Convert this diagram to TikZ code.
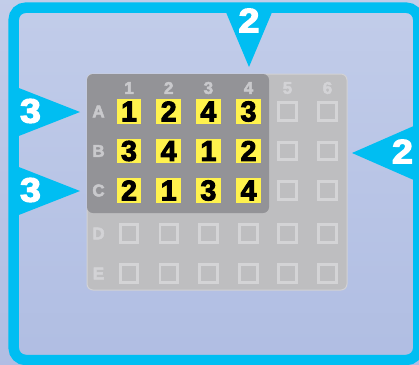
\documentclass[tikz,border=0pt]{standalone}
\usepackage{fontspec}
\newfontfamily\heavyfont{Liberation Sans}[UprightFont={* Bold}]
\newcommand{\thick}[2]{\special{pdf:literal direct 2 Tr #1 w}#2\special{pdf:literal direct 0 Tr}}
\definecolor{bgA}{HTML}{C6D0EB}
\definecolor{bgB}{HTML}{ACBAE1}
\definecolor{frame}{HTML}{00BEF2}
\definecolor{plate}{HTML}{BEBEC0}
\definecolor{plateedge}{HTML}{D2D2D5}
\definecolor{dark}{HTML}{939397}
\definecolor{ylw}{HTML}{FFF24D}
\definecolor{lab}{HTML}{C9C9CC}
\definecolor{lablight}{HTML}{D3D3D6}
\definecolor{wellc}{HTML}{D4D4D6}
\tikzset{
  ysq/.style={fill=ylw, minimum size=24.5pt, inner sep=0pt, font=\heavyfont\fontsize{28.5}{28.5}\selectfont, text=black},
  wellsq/.style={draw=wellc, line width=2.8pt, minimum size=17.5pt, inner sep=0pt},
  collab/.style={text=lab, inner sep=0pt, font=\heavyfont\fontsize{17}{17}\selectfont},
  collabl/.style={collab, text=lablight},
  bignum/.style={text=white, inner sep=0pt, xscale=1.1, font=\heavyfont\fontsize{34}{34}\selectfont},
  tri/.style={fill=frame},
}
\begin{document}
\begin{tikzpicture}[x=1pt,y=-1pt]
\useasboundingbox (0,0) rectangle (419,364);
\clip (0,0) rectangle (419,364);
\shade[shading angle=45, top color=bgA, bottom color=bgB] (-80,-80) rectangle (500,444);
% frame
\draw[frame, line width=10.5pt, rounded corners=12pt] (13.7,7.7) rectangle (418.3,360);
% triangles
\fill[tri] (224,7.5) -- (274,7.5) -- (249,67) -- cycle;
\fill[tri] (13.7,86) -- (80,112) -- (13.7,138) -- cycle;
\fill[tri] (13.7,165) -- (80,191) -- (13.7,217) -- cycle;
\fill[tri] (418.3,124) -- (352,153) -- (418.3,182) -- cycle;
% numbers on triangles
\node[bignum] (t2) at (249,20.5) {\thick{1.2}{2}};
\node[bignum] (l3a) at (30.5,111) {\thick{1.2}{3}};
\node[bignum] (l3b) at (30.5,190) {\thick{1.2}{3}};
\node[bignum] (r2) at (402.5,151.5) {\thick{1.2}{2}};
% plate
\draw[fill=plate, draw=plateedge, line width=1pt, rounded corners=6pt] (87,74) rectangle (347,290);
\fill[dark, rounded corners=6pt] (87,74) rectangle (269,213);
% column labels
\foreach \c/\x in {1/129,2/168.7,3/208.4,4/248.5}{
  \node[collab] (col\c) at (\x,88) {\thick{0.5}{\c}};
}
\foreach \c/\x in {5/287.5,6/327.5}{
  \node[collabl] (col\c) at (\x,88) {\thick{0.5}{\c}};
}
% row labels
\foreach \r/\y in {A/111.5,B/151,C/190.5}{
  \node[collab] (row\r) at (98.5,\y) {\thick{0.5}{\r}};
}
\foreach \r/\y in {D/233.5,E/273.5}{
  \node[collabl] (row\r) at (98.5,\y) {\thick{0.5}{\r}};
}
% yellow wells
\node[ysq] (A1) at (129,111.5) {\thick{1}{1}};
\node[ysq] (A2) at (168.7,111.5) {\thick{1}{2}};
\node[ysq] (A3) at (208.4,111.5) {\thick{1}{4}};
\node[ysq] (A4) at (248.5,111.5) {\thick{1}{3}};
\node[ysq] (B1) at (129,151) {\thick{1}{3}};
\node[ysq] (B2) at (168.7,151) {\thick{1}{4}};
\node[ysq] (B3) at (208.4,151) {\thick{1}{1}};
\node[ysq] (B4) at (248.5,151) {\thick{1}{2}};
\node[ysq] (C1) at (129,190.5) {\thick{1}{2}};
\node[ysq] (C2) at (168.7,190.5) {\thick{1}{1}};
\node[ysq] (C3) at (208.4,190.5) {\thick{1}{3}};
\node[ysq] (C4) at (248.5,190.5) {\thick{1}{4}};
% empty wells
\foreach \r/\y in {A/111.5,B/151,C/190.5}{
  \foreach \c/\x in {5/287.5,6/327.5}{
    \node[wellsq] (\r\c) at (\x,\y) {};
  }
}
\foreach \r/\y in {D/233.5,E/273.5}{
  \foreach \c/\x in {1/129,2/168.7,3/208.4,4/248.5,5/287.5,6/327.5}{
    \node[wellsq] (\r\c) at (\x,\y) {};
  }
}
\end{tikzpicture}
\end{document}
